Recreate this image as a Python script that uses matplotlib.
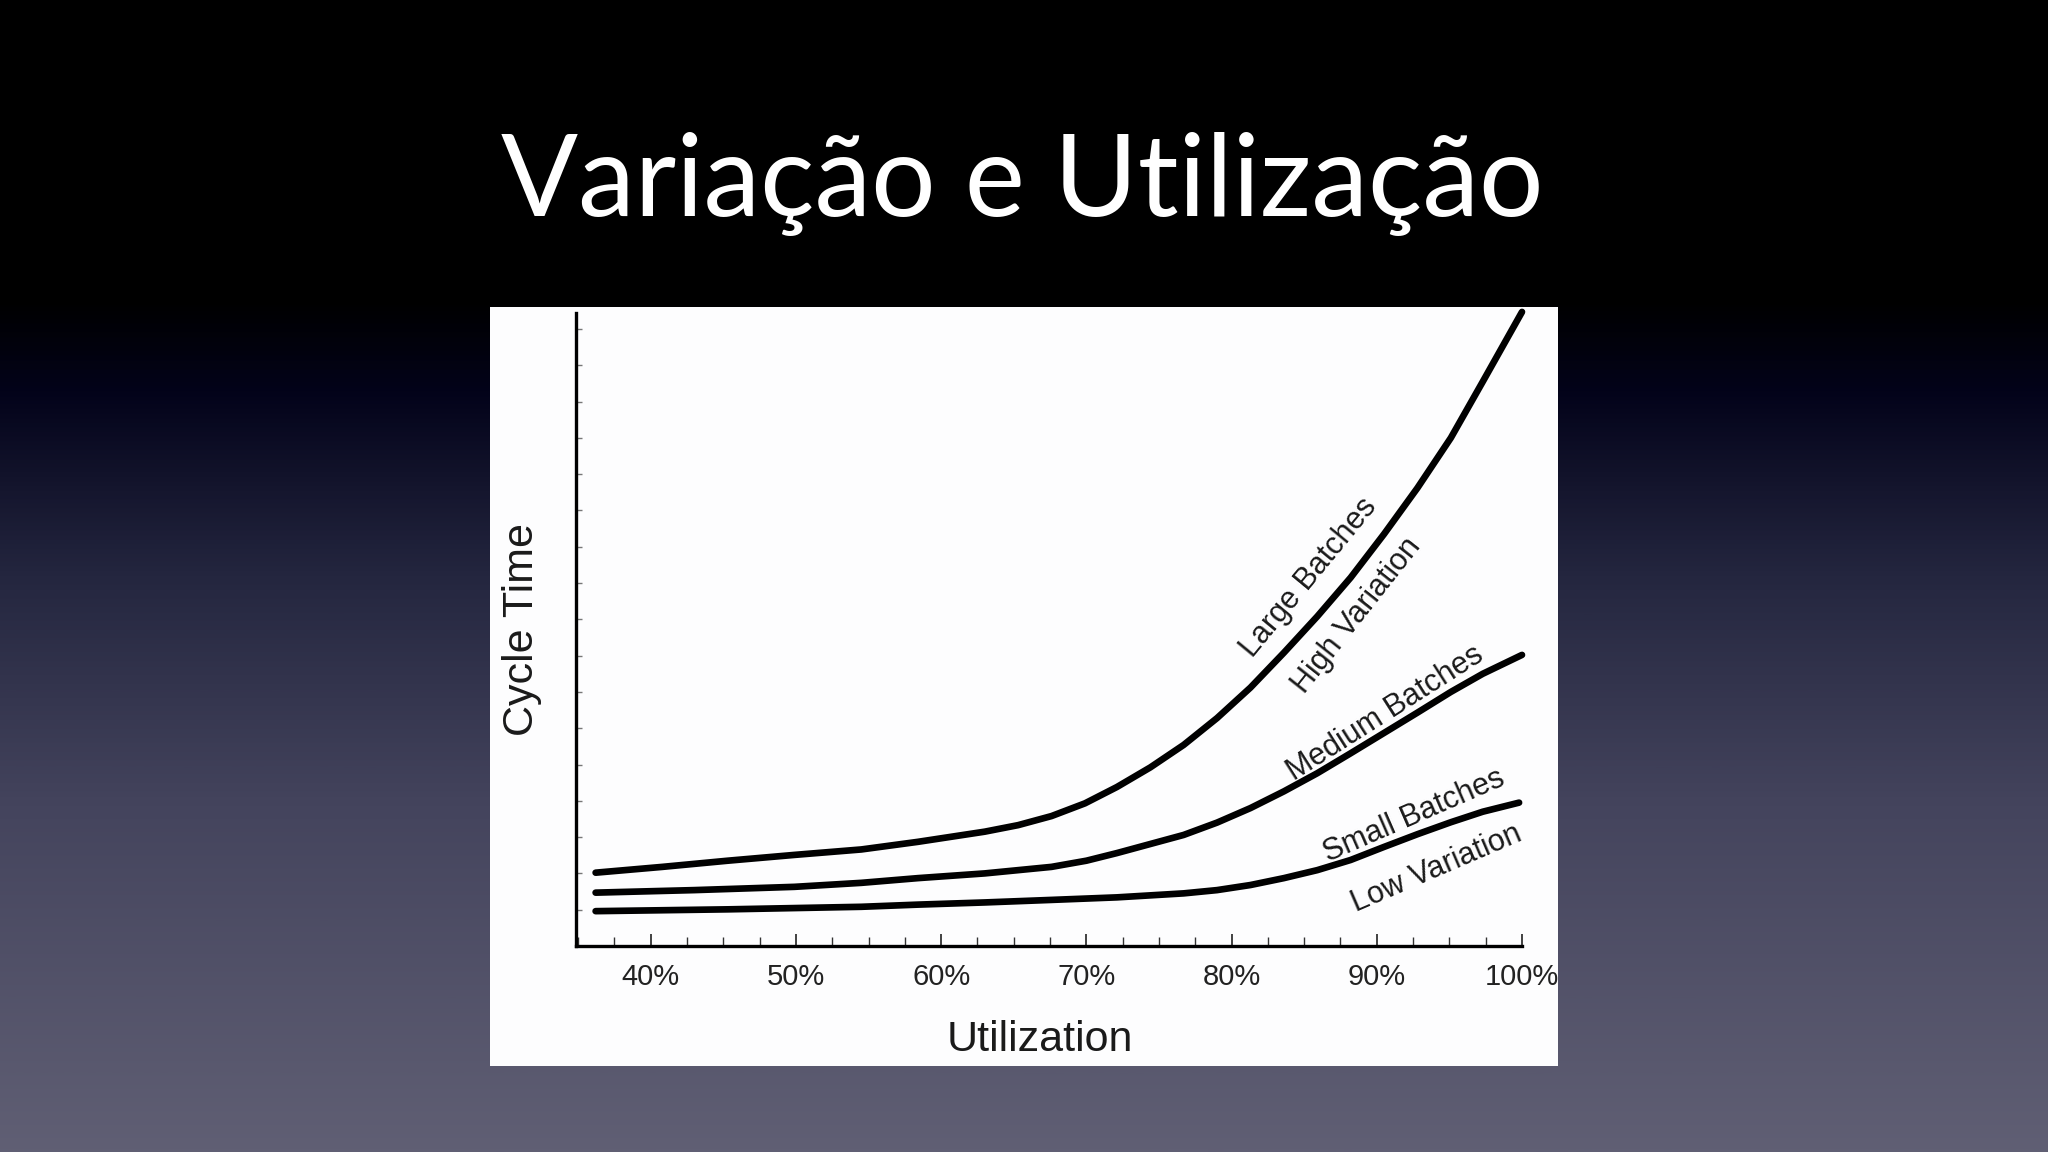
import numpy as np
import matplotlib.pyplot as plt
from matplotlib.colors import LinearSegmentedColormap
from matplotlib.patches import Rectangle
from matplotlib.ticker import MultipleLocator

# --- data (utilization %, cycle time in tick units) ---
large_x = [36.2, 40.8, 45.3, 49.9, 54.5, 58.4, 63.0, 65.3, 67.6, 69.9, 72.1, 74.4,
           76.7, 79.0, 81.3, 83.6, 85.9, 88.2, 90.5, 92.8, 95.1, 97.3, 100.0]
large_y = [2.02, 2.18, 2.35, 2.51, 2.66, 2.87, 3.15, 3.33, 3.58, 3.93, 4.38, 4.92,
           5.54, 6.28, 7.12, 8.08, 9.08, 10.15, 11.35, 12.62, 14.0, 15.55, 17.47]

medium_x = [36.2, 43.0, 49.9, 54.5, 58.4, 63.0, 67.6, 70.0, 72.1, 76.7, 79.0, 81.3,
            83.6, 85.9, 88.2, 90.5, 92.8, 95.1, 97.3, 100.0]
medium_y = [1.47, 1.54, 1.63, 1.74, 1.87, 2.00, 2.18, 2.35, 2.56, 3.06, 3.40, 3.80,
            4.26, 4.76, 5.31, 5.87, 6.43, 7.0, 7.5, 8.02]

small_x = [36.2, 45.3, 54.5, 58.4, 63.0, 67.6, 72.1, 76.7, 79.0, 81.3, 83.6, 85.9,
           88.2, 90.5, 92.8, 95.1, 97.3, 99.8]
small_y = [0.96, 1.01, 1.08, 1.14, 1.20, 1.27, 1.34, 1.45, 1.54, 1.68, 1.87, 2.09,
           2.37, 2.73, 3.08, 3.41, 3.70, 3.95]

x_ticks = [40, 50, 60, 70, 80, 90, 100]
x_tick_labels = ["40%", "50%", "60%", "70%", "80%", "90%", "100%"]

# curve labels: text, x, y, angle
curve_labels = [
    ("Large Batches", 85.3, 10.15, 50.5),
    ("High Variation", 88.6, 9.1, 51.7),
    ("Medium Batches", 90.6, 6.40, 32.5),
    ("Small Batches", 92.6, 3.58, 23.5),
    ("Low Variation", 94.1, 2.12, 23.3),
]

TITLE = "Variação e Utilização"

fig = plt.figure(figsize=(20.48, 11.52), dpi=100)

# --- slide background gradient ---
bg = fig.add_axes([0, 0, 1, 1], zorder=-10)
bg.axis("off")
cmap = LinearSegmentedColormap.from_list("slide", [
    (0.0, "#000000"), (0.26, "#000000"), (0.34, "#03031a"),
    (0.5, "#24263f"), (0.7, "#44445d"), (1.0, "#605f74")])
grad = np.linspace(0, 1, 512).reshape(-1, 1)
bg.imshow(grad, aspect="auto", cmap=cmap, extent=[0, 1, 0, 1], origin="upper")
bg.set_xlim(0, 1)
bg.set_ylim(0, 1)

# white picture panel
fig.patches.append(Rectangle((490 / 2048, 1 - 1066 / 1152), 1068 / 2048, 759 / 1152,
                             transform=fig.transFigure, facecolor="#fdfdfe",
                             edgecolor="none", zorder=-5))

fig.text(0.499, 0.8125, TITLE, color="white", fontsize=82, family="Lato",
         ha="center", va="baseline")

# --- chart ---
ax = fig.add_axes([576 / 2048, 1 - 946 / 1152, 946 / 2048, 633 / 1152])
ax.set_facecolor("none")
lw = 4.8
for xs, ys in [(large_x, large_y), (medium_x, medium_y), (small_x, small_y)]:
    ax.plot(xs, ys, color="black", lw=lw, solid_capstyle="round",
            solid_joinstyle="round", clip_on=False)

ax.set_xlim(34.85, 100)
ax.set_ylim(0, 17.44)

for s in ["top", "right"]:
    ax.spines[s].set_visible(False)
for s in ["left", "bottom"]:
    ax.spines[s].set_linewidth(2.4)
    ax.spines[s].set_color("black")

ax.set_xticks(x_ticks)
ax.set_xticklabels(x_tick_labels, family="Liberation Sans", fontsize=21, color="#222222")
ax.xaxis.set_minor_locator(MultipleLocator(2.5))
ax.tick_params(axis="x", which="major", direction="in", length=9, width=1.2,
               pad=12, color="#222222")
ax.tick_params(axis="x", which="minor", direction="in", length=6.5, width=1.0,
               color="#333333")
ax.set_yticks(np.arange(1, 18))
ax.set_yticklabels([])
ax.tick_params(axis="y", direction="in", length=4, width=1.0, color="#777777")

ax.set_xlabel("Utilization", family="Liberation Sans", fontsize=31, color="#1a1a1a")
ax.xaxis.set_label_coords(0.49, -0.117)
ax.set_ylabel("Cycle Time", family="Liberation Sans", fontsize=31, color="#1a1a1a")
ax.yaxis.set_label_coords(-0.036, 0.5)

for txt, x, y, ang in curve_labels:
    ax.text(x, y, txt, rotation=ang, rotation_mode="anchor", ha="center", va="center",
            family="Liberation Sans", fontsize=22, color="#1a1a1a")

fig.savefig("out.png", dpi=100)
